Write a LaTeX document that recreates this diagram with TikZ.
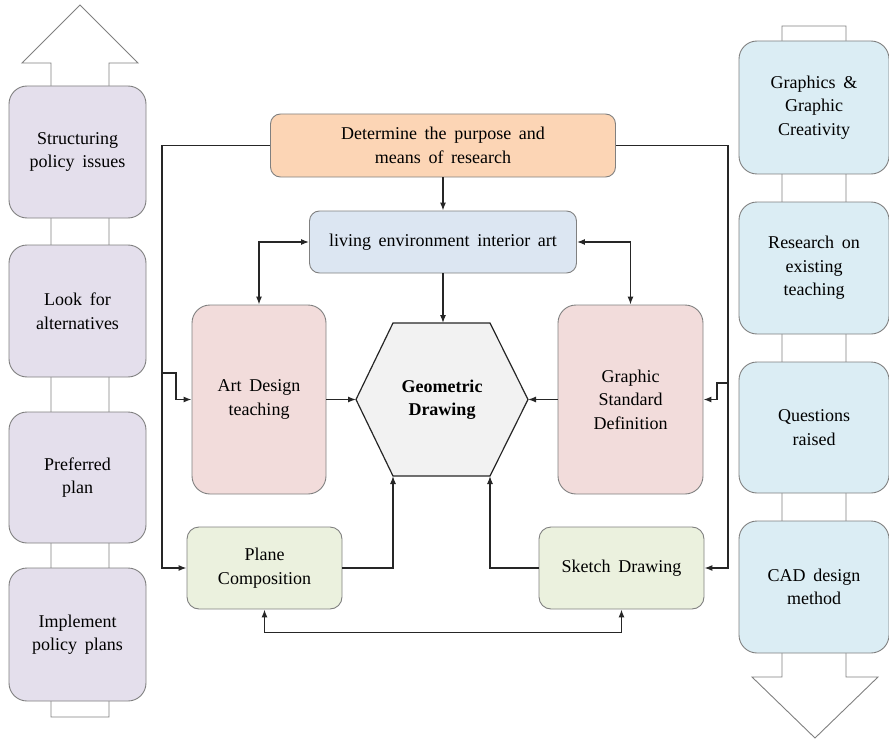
\documentclass[tikz,border=0pt]{standalone}
\usepackage{fontspec}
\setmainfont{Liberation Serif}
\usetikzlibrary{arrows.meta}
\newcommand\boxfont{\fontsize{18}{23.5}\selectfont\spaceskip 0.42em plus 0.1em\relax}

\begin{document}
\begin{tikzpicture}[x=1pt,y=-1pt,
  every node/.style={font=\boxfont,align=center},
  box/.style={draw=edgecolor,line width=0.9pt,rounded corners=#1,inner sep=0pt},
  box/.default=10pt,
  link/.style={draw=linecolor,line width=1.2pt,-{Latex[length=8pt,width=6pt]}},
  twolink/.style={draw=linecolor,line width=1.2pt,{Latex[length=8pt,width=6pt]}-{Latex[length=8pt,width=6pt]}},
  bigarrow/.style={draw=edgecolor,line width=0.9pt,fill=white}]
\definecolor{edgecolor}{RGB}{128,128,128}
\definecolor{linecolor}{RGB}{38,38,38}
\definecolor{leftcolor}{RGB}{228,223,236}
\definecolor{rightcolor}{RGB}{219,237,244}
\definecolor{purposecolor}{RGB}{252,213,181}
\definecolor{livingcolor}{RGB}{220,230,242}
\definecolor{pinkcolor}{RGB}{242,220,219}
\definecolor{greencolor}{RGB}{235,241,222}
\definecolor{hexcolor}{RGB}{242,242,242}
\useasboundingbox (0,0) rectangle (889,741);
\draw [bigarrow] (51,717) -- (51,63) -- (22,63) -- (80,5) -- (138,63) -- (109,63) -- (109,717) -- cycle;
\draw [bigarrow] (782,26) -- (846,26) -- (846,677) -- (878,677) -- (815,738) -- (752,677) -- (782,677) -- cycle;
\node [box=18pt,fill=leftcolor,minimum width=137pt,minimum height=132pt] (issues) at (77.5,152) {Structuring\\policy issues};
\node [box=18pt,fill=leftcolor,minimum width=137pt,minimum height=132pt] (altern) at (77.5,311) {Look for\\alternatives};
\node [box=18pt,fill=leftcolor,minimum width=137pt,minimum height=131pt] (prefer) at (77.5,477.5) {Preferred\\plan};
\node [box=18pt,fill=leftcolor,minimum width=137pt,minimum height=133pt] (implem) at (77.5,634.5) {Implement\\policy plans};
\node [box=18pt,fill=rightcolor,minimum width=150pt,minimum height=133pt] (creat) at (814,107.5) {Graphics \&\\Graphic\\Creativity};
\node [box=18pt,fill=rightcolor,minimum width=150pt,minimum height=132pt] (exist) at (814,268) {Research on\\existing\\teaching};
\node [box=18pt,fill=rightcolor,minimum width=150pt,minimum height=131pt] (quest) at (814,427.5) {Questions\\raised};
\node [box=18pt,fill=rightcolor,minimum width=150pt,minimum height=132pt] (cad) at (814,587) {CAD design\\method};
\node [box=10pt,fill=purposecolor,minimum width=345pt,minimum height=63pt] (purpose) at (443,145.5) {Determine the purpose and\\means of research};
\node [box=10pt,fill=livingcolor,minimum width=267pt,minimum height=62pt] (living) at (443,242) {living environment interior art};
\node [box=18pt,fill=pinkcolor,minimum width=134pt,minimum height=189pt] (art) at (259,399.5) {Art Design\\teaching};
\node [box=18pt,fill=pinkcolor,minimum width=145pt,minimum height=189pt] (std) at (630.5,399.5) {Graphic\\Standard\\Definition};
\node [box=12pt,fill=greencolor,minimum width=155pt,minimum height=82pt] (plane) at (264.5,568) {Plane\\Composition};
\node [box=12pt,fill=greencolor,minimum width=165pt,minimum height=82pt] (sketch) at (621.5,568) {Sketch Drawing};
\coordinate (hl) at (356,399.5);
\coordinate (htl) at (393,323);
\coordinate (htr) at (490,323);
\coordinate (hr) at (528,399.5);
\coordinate (hbr) at (490,476);
\coordinate (hbl) at (393,476);
\coordinate (ht) at (443,323);
\draw [draw=linecolor,line width=1.2pt,fill=hexcolor] (hl) -- (htl) -- (htr) -- (hr) -- (hbr) -- (hbl) -- cycle;
\node [font=\boxfont\bfseries] (geo) at (442,399.5) {Geometric\\Drawing};
\coordinate (lcorner) at (162,568);
\coordinate (lbranch) at (162,373);
\coordinate (rcorner) at (728,568);
\coordinate (rbranch) at (728,383);
\draw [link] (purpose) -- (living);
\draw [link] (living) -- (ht);
\draw [twolink] (art.north) |- (living.west);
\draw [twolink] (std.north) |- (living.east);
\draw [link] (art.east) -- (hl);
\draw [link] (std.west) -- (hr);
\draw [link] (purpose.west) -| (lcorner) -- (plane.west);
\draw [link] (lbranch) -- ++(14,0) |- (art.west);
\draw [link] (purpose.east) -| (rcorner) -- (sketch.east);
\draw [link] (rbranch) -- ++(-11,0) |- (std.east);
\draw [link] (plane.east) -| (hbl);
\draw [link] (sketch.west) -| (hbr);
\draw [twolink] (plane.south) -- ++(0,23) -| (sketch.south);
\end{tikzpicture}
\end{document}
